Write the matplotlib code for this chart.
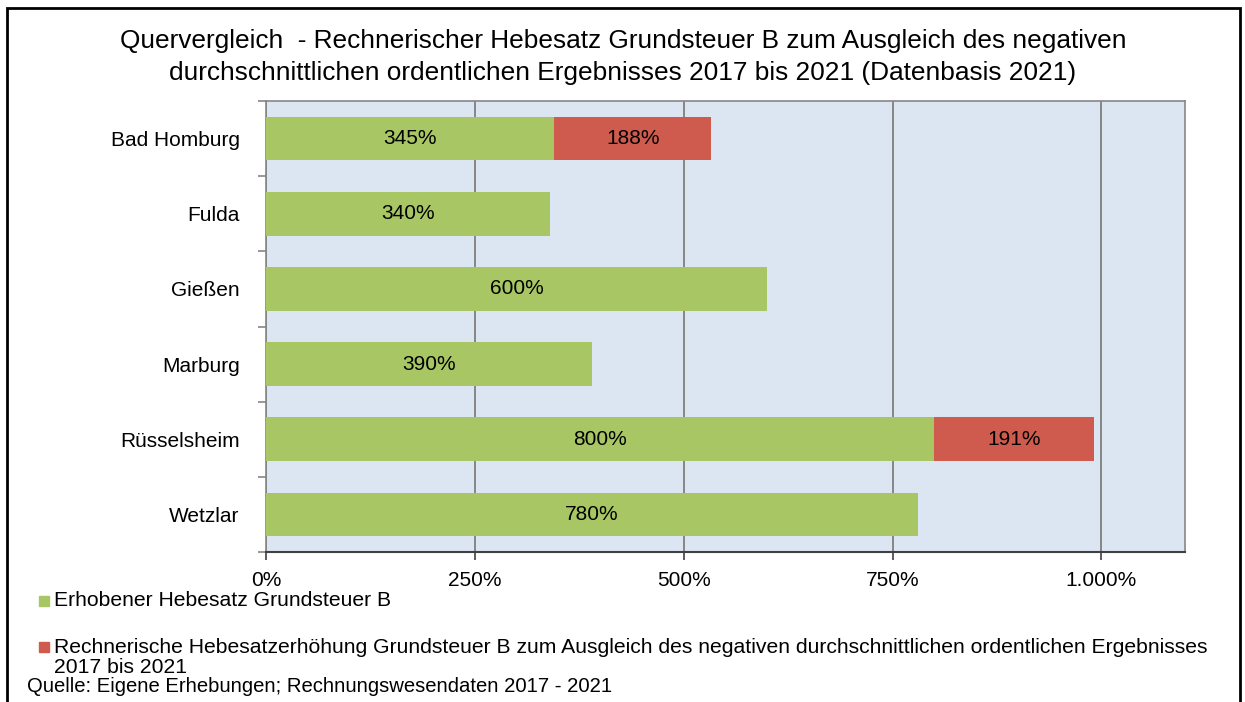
import matplotlib
matplotlib.use("Agg")
import matplotlib.pyplot as plt
from matplotlib.patches import Rectangle
from matplotlib.ticker import FuncFormatter, FixedLocator

# Städte und Hebesätze (in %)
staedte = ["Bad Homburg", "Fulda", "Gießen", "Marburg", "Rüsselsheim", "Wetzlar"]
hebesatz = [345, 340, 600, 390, 800, 780]
erhoehung = [188, 0, 0, 0, 191, 0]

titel = ("Quervergleich  - Rechnerischer Hebesatz Grundsteuer B zum Ausgleich des negativen\n"
         "durchschnittlichen ordentlichen Ergebnisses 2017 bis 2021 (Datenbasis 2021)")
legende_gruen = "Erhobener Hebesatz Grundsteuer B"
legende_rot = ("Rechnerische Hebesatzerhöhung Grundsteuer B zum Ausgleich des negativen durchschnittlichen ordentlichen Ergebnisses\n"
               "2017 bis 2021")
quelle = "Quelle: Eigene Erhebungen; Rechnungswesendaten 2017 - 2021"

GRUEN = "#A8C764"
ROT = "#CF5B4F"
HINTERGRUND = "#DCE6F2"
GRAU = "#868686"

plt.rcParams["font.family"] = ["Liberation Sans", "DejaVu Sans"]
FS = 15

W, H = 1245, 702
fig = plt.figure(figsize=(W / 100, H / 100), dpi=100)

def fx(px):
    return px / W

def fy(py):
    return 1 - py / H

ax = fig.add_axes([fx(266), fy(552), fx(1185) - fx(266), fy(101) - fy(552)])
ax.set_facecolor(HINTERGRUND)

y = list(range(len(staedte)))
ax.barh(y, hebesatz, height=0.58, color=GRUEN, zorder=3)
ax.barh(y, erhoehung, left=hebesatz, height=0.58, color=ROT, zorder=3)

for i in y:
    ax.text(hebesatz[i] / 2, i, f"{hebesatz[i]}%", ha="center", va="center",
            fontsize=FS, zorder=4)
    if erhoehung[i] > 0:
        ax.text(hebesatz[i] + erhoehung[i] / 2, i, f"{erhoehung[i]}%",
                ha="center", va="center", fontsize=FS, zorder=4)

ax.set_xlim(0, 1100)
ax.set_ylim(len(staedte) - 0.5, -0.5)

ax.set_xticks([0, 250, 500, 750, 1000])
ax.xaxis.set_major_formatter(FuncFormatter(
    lambda v, p: f"{int(v):,}%".replace(",", ".")))
ax.grid(axis="x", color=GRAU, linewidth=1.4, zorder=1)
ax.tick_params(axis="x", length=6, width=1.2, color="#404040", pad=8, labelsize=FS)

ax.set_yticks(y)
ax.set_yticklabels(staedte)
ax.yaxis.set_minor_locator(FixedLocator([i - 0.5 for i in range(len(staedte) + 1)]))
ax.tick_params(axis="y", which="major", length=0, pad=19, labelsize=FS)
ax.tick_params(axis="y", which="minor", length=6, width=1.2, color=GRAU)

for s in ["top", "right", "left"]:
    ax.spines[s].set_color(GRAU)
    ax.spines[s].set_linewidth(1.2)
ax.spines["bottom"].set_color("#404040")
ax.spines["bottom"].set_linewidth(1.5)

fig.text(fx(623), fy(57), titel, ha="center", va="center", fontsize=18.9,
         linespacing=1.45)

# Legende unter der Grafik
for farbe, text, ypos in [(GRUEN, legende_gruen, 601), (ROT, legende_rot, 647)]:
    fig.patches.append(Rectangle((fx(39), fy(ypos + 5)), fx(10), 10 / H,
                                 transform=fig.transFigure, color=farbe))
    mehrzeilig = "\n" in text
    fig.text(fx(54), fy(ypos - 9) if mehrzeilig else fy(ypos), text, ha="left",
             va="top" if mehrzeilig else "center", fontsize=15.2, linespacing=1.05)

fig.text(fx(27), fy(687), quelle, ha="left", va="center", fontsize=14.6)

# Rahmen um das Diagramm
fig.patches.append(Rectangle((fx(7), fy(720)), fx(1240) - fx(7), fy(8) - fy(720),
                             transform=fig.transFigure, fill=False,
                             edgecolor="black", linewidth=2))

fig.savefig("out.png", dpi=100)
